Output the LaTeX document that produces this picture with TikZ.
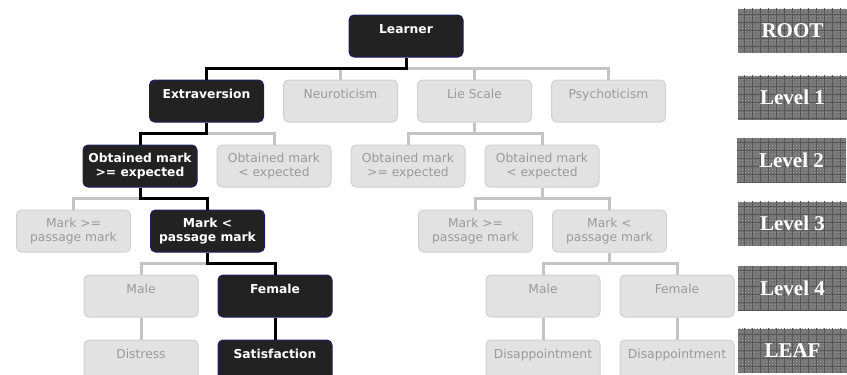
\documentclass[tikz,border=0pt]{standalone}
\usepackage{fontspec}
\setmainfont{DejaVu Sans}
\newfontfamily\tagfont{Liberation Serif}
\usetikzlibrary{positioning,patterns,patterns.meta}
\definecolor{boxdark}{HTML}{222222}
\definecolor{boxrim}{HTML}{1E1E66}
\definecolor{boxpale}{HTML}{E2E2E2}
\definecolor{rimpale}{HTML}{D0D0D0}
\definecolor{textpale}{HTML}{9A9A9A}
\definecolor{linkpale}{HTML}{C4C4C4}
\tikzstyle{chosen}=[
	rectangle,
	rounded corners=5pt,
	line width=1pt,
	draw=boxrim,
	fill=boxdark,
	text=white,
	font=\fontsize{12.3}{14.5}\selectfont\bfseries,
	align=center,
	minimum width=114pt,
	minimum height=42pt,
	inner sep=0pt,
	node distance=22pt and 19pt
]
\tikzstyle{unchosen}=[
	chosen,
	draw=rimpale,
	fill=boxpale,
	text=textpale,
	font=\fontsize{12.3}{14.5}\selectfont
]
\tikzstyle{chosenlink}=[
	line width=3pt,
	draw=black
]
\tikzstyle{unchosenlink}=[
	line width=3pt,
	draw=linkpale
]
\tikzstyle{levelbox}=[
	rectangle,
	fill=black!55,
	postaction={pattern=crosshatch dots, pattern color=black!38},
	postaction={pattern={Hatch[angle=0,distance=8pt,line width=1pt]}, pattern color=black!66},
	text=white,
	font=\tagfont\fontsize{21}{24}\selectfont\bfseries,
	minimum width=109pt,
	minimum height=44pt
]

\begin{document}
\begin{tikzpicture}[x=1pt,y=-1pt]
\useasboundingbox (0,0) rectangle (847,375);
% tree
\node [chosen] (Learner) at (406,36) {Learner\\~};
\node [chosen] (Extraversion) [below=of Learner, xshift=-199.5pt] {Extraversion\\~};
\node [unchosen] (Neuroticism) [right=of Extraversion] {Neuroticism\\~};
\node [unchosen] (LieScale) [right=of Neuroticism] {Lie Scale\\~};
\node [unchosen] (Psychoticism) [right=of LieScale] {Psychoticism\\~};
\node [chosen] (ExpHigh) [below=of Extraversion, xshift=-66.5pt] {Obtained mark\\>= expected};
\node [unchosen] (ExpLow) [right=of ExpHigh] {Obtained mark\\< expected};
\node [unchosen] (LieHigh) [below=of LieScale, xshift=-66.5pt] {Obtained mark\\>= expected};
\node [unchosen] (LieLow) [right=of LieHigh] {Obtained mark\\< expected};
\node [unchosen] (PassHigh) [below=of ExpHigh, xshift=-66.5pt] {Mark >=\\passage mark};
\node [chosen] (PassLow) [right=of PassHigh] {Mark <\\passage mark};
\node [unchosen] (LiePassHigh) [below=of LieLow, xshift=-66.5pt] {Mark >=\\passage mark};
\node [unchosen] (LiePassLow) [right=of LiePassHigh] {Mark <\\passage mark};
\node [unchosen] (Male) [below=of PassLow, xshift=-66.5pt] {Male\\~};
\node [chosen] (Female) [right=of Male] {Female\\~};
\node [unchosen] (LieMale) [below=of LiePassLow, xshift=-66.5pt] {Male\\~};
\node [unchosen] (LieFemale) [right=of LieMale] {Female\\~};
\node [unchosen] (Distress) [below=of Male] {Distress\\~};
\node [chosen] (Satisfaction) [below=of Female] {Satisfaction\\~};
\node [unchosen] (LieMaleLeaf) [below=of LieMale] {Disappointment\\~};
\node [unchosen] (LieFemaleLeaf) [below=of LieFemale] {Disappointment\\~};
% links, pale ones first
\foreach \from/\to in {Learner/Neuroticism, Learner/LieScale, Learner/Psychoticism,
	Extraversion/ExpLow, LieScale/LieHigh, LieScale/LieLow, ExpHigh/PassHigh,
	LieLow/LiePassHigh, LieLow/LiePassLow, PassLow/Male, LiePassLow/LieMale,
	LiePassLow/LieFemale, Male/Distress, LieMale/LieMaleLeaf, LieFemale/LieFemaleLeaf}
	\draw [unchosenlink] (\from.south) -- ++(0,11) -| (\to.north);
\foreach \from/\to in {Learner/Extraversion, Extraversion/ExpHigh, ExpHigh/PassLow,
	PassLow/Female, Female/Satisfaction}
	\draw [chosenlink] (\from.south) -- ++(0,11) -| (\to.north);
% level tags
\node [levelbox] (TagRoot) at (792.5,30.5) {ROOT};
\node [levelbox] (TagOne) at (792.5,97.5) {Level 1};
\node [levelbox] (TagTwo) at (791.5,160) {Level 2};
\node [levelbox] (TagThree) at (792.5,223.5) {Level 3};
\node [levelbox] (TagFour) at (792.5,288) {Level 4};
\node [levelbox] (TagLeaf) at (792.5,350.5) {LEAF};
\end{tikzpicture}
\end{document}
